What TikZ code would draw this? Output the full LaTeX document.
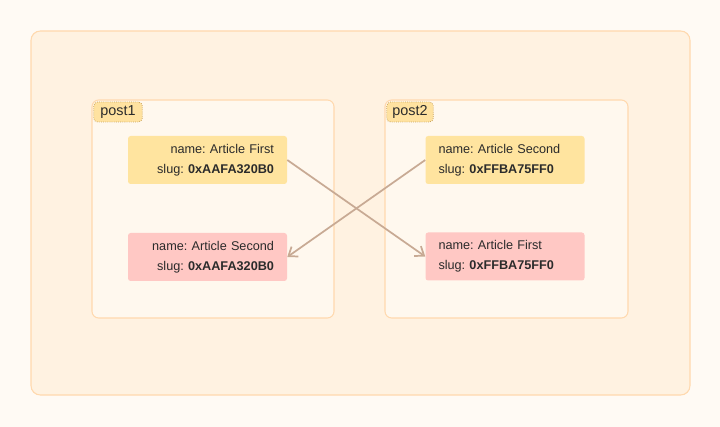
\documentclass[tikz,border=0pt]{standalone}
\usepackage{fontspec}
\setmainfont{Liberation Sans}
\frenchspacing
\usetikzlibrary{arrows.meta}
\definecolor{bgcol}{HTML}{FFFAF4}
\definecolor{outercol}{HTML}{FFF2E1}
\definecolor{outerline}{HTML}{FFD9AE}
\definecolor{innercol}{HTML}{FFF8EE}
\definecolor{tagcol}{HTML}{FFE2A0}
\definecolor{tagline}{HTML}{C9A45E}
\definecolor{yellowcol}{HTML}{FFE49F}
\definecolor{pinkcol}{HTML}{FFC8C4}
\definecolor{arrowcol}{HTML}{C8AA94}
\definecolor{textcol}{HTML}{2B2B2B}

\begin{document}
\begin{tikzpicture}[x=0.75pt, y=-0.75pt,
    >={Straight Barb[length=6pt, width=9pt]},
    group/.style = {draw=outerline, fill=innercol, line width=0.8pt, rounded corners=5pt},
    tag/.style = {draw=tagline, fill=tagcol, densely dotted, line width=0.6pt, rounded corners=3pt, inner sep=0pt,
        minimum width=36pt, minimum height=15pt, font=\fontsize{10.8}{12}\selectfont, text=textcol},
    entry/.style = {inner xsep=9.75pt, inner ysep=0pt, text width=99.75pt, minimum height=36pt,
        rounded corners=2pt, font=\fontsize{9.5}{15}\selectfont, text=textcol},
    kept/.style = {entry, fill=yellowcol},
    moved/.style = {entry, fill=pinkcol},
    swap/.style = {->, draw=arrowcol, line width=1.3pt}]

    % page and outer frame
    \fill[bgcol] (0,0) rectangle (720,427);
    \useasboundingbox (0,0) rectangle (720,427);
    \draw[draw=outerline, fill=outercol, line width=0.8pt, rounded corners=7pt] (31,31) rectangle (690,395);

    % the two posts
    \draw[group] (92,100) rectangle (334,318);
    \draw[group] (385,100) rectangle (628,318);
    \node[tag, minimum width=36.5pt] (tag1) at (118,112) {post1};
    \node[tag, minimum width=35pt] (tag2) at (410,112) {post2};

    % entries
    \node[kept, align=right] (first1) at (207.5,160) {name: Article First\\slug: \textbf{0xAAFA320B0}};
    \node[moved, align=right] (second1) at (207.5,257) {name: Article Second\\slug: \textbf{0xAAFA320B0}};
    \node[kept, align=left] (second2) at (505,160) {name: Article Second\\slug: \textbf{0xFFBA75FF0}};
    \node[moved, align=left] (first2) at (505,256.5) {name: Article First\\slug: \textbf{0xFFBA75FF0}};

    % swapped names
    \draw[swap] (first1.east) -- (first2.west);
    \draw[swap] (second2.west) -- (second1.east);
\end{tikzpicture}
\end{document}
